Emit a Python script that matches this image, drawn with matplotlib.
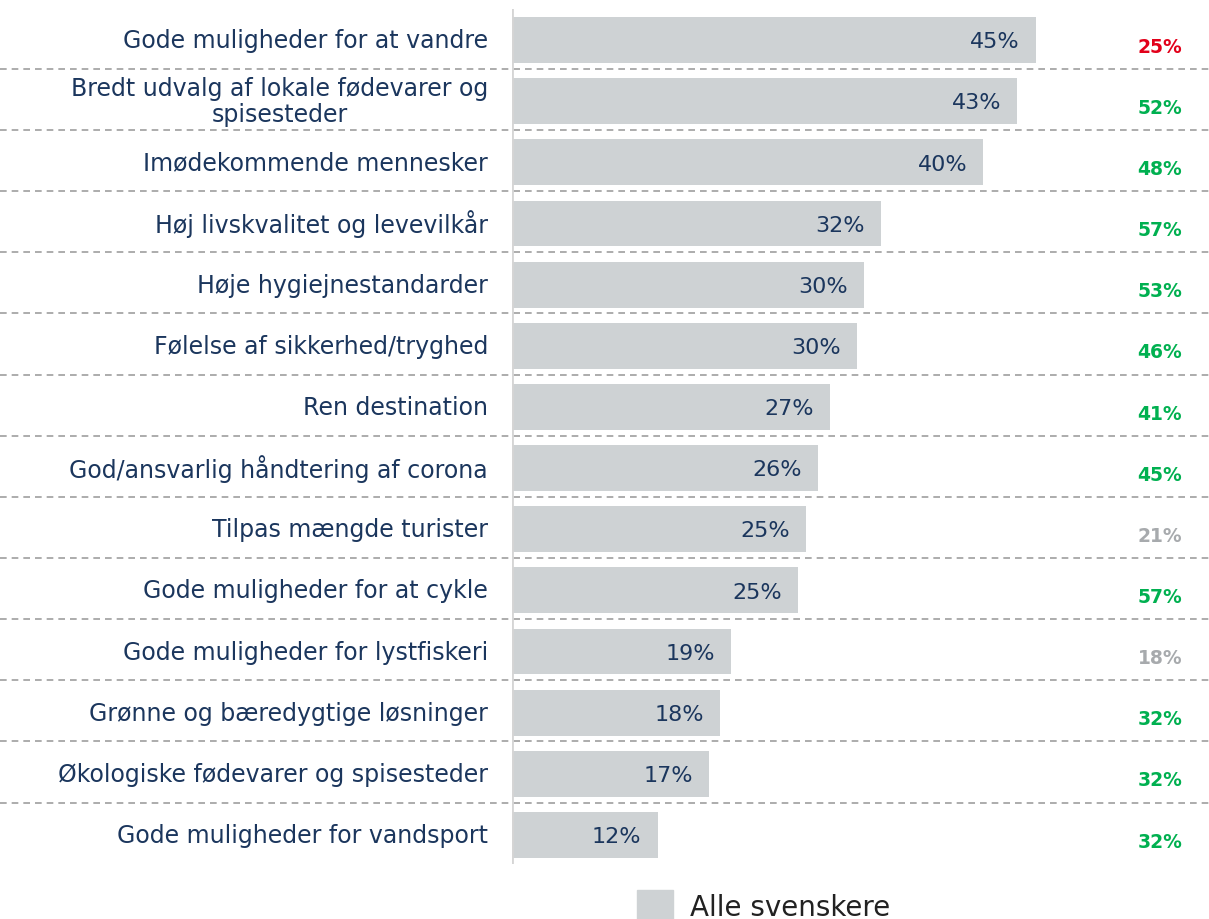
import matplotlib.pyplot as plt
import matplotlib.patches as mpatches

categories = [
    'Gode muligheder for at vandre',
    'Bredt udvalg af lokale fødevarer og\nspisesteder',
    'Imødekommende mennesker',
    'Høj livskvalitet og levevilkår',
    'Høje hygiejnestandarder',
    'Følelse af sikkerhed/tryghed',
    'Ren destination',
    'God/ansvarlig håndtering af corona',
    'Tilpas mængde turister',
    'Gode muligheder for at cykle',
    'Gode muligheder for lystfiskeri',
    'Grønne og bæredygtige løsninger',
    'Økologiske fødevarer og spisesteder',
    'Gode muligheder for vandsport',
]
# bar lengths (unrounded) and the printed labels
alle_values = [45.0, 43.4, 40.5, 31.7, 30.2, 29.6, 27.3, 26.3, 25.3, 24.6, 18.8, 17.9, 16.9, 12.5]
alle_labels = ['45%', '43%', '40%', '32%', '30%', '30%', '27%', '26%', '25%', '25%', '19%', '18%', '17%', '12%']
other_labels = ['25%', '52%', '48%', '57%', '53%', '46%', '41%', '45%', '21%', '57%', '18%', '32%', '32%', '32%']
other_status = ['down', 'up', 'up', 'up', 'up', 'up', 'up', 'up', 'same', 'up', 'same', 'up', 'up', 'up']

status_colors = {'up': '#00B050', 'down': '#E2001A', 'same': '#A7AAAD'}
bar_color = '#CED2D4'
navy = '#1B365D'

plt.rcParams['font.family'] = ['DejaVu Sans']

W, H = 1209, 920
fig = plt.figure(figsize=(W / 100, H / 100), dpi=100)
ax = fig.add_axes([512 / W, 1 - 865 / H, (W - 512) / W, 855 / H])

px = 11.64  # pixels per percent
ax.set_xlim(0, (W - 512) / px)
ax.set_ylim(13.474, -0.507)

y = list(range(len(categories)))
ax.barh(y, alle_values, height=0.75, color=bar_color, zorder=2)

for i in y:
    ax.text(-24 / px, i, categories[i], ha='right', va='center', fontsize=17,
            color=navy, linespacing=1.1, multialignment='center')
    ax.text(alle_values[i] - 16 / px, i + 0.02, alle_labels[i], ha='right', va='center',
            fontsize=16, color=navy, zorder=3)
    ax.text((1160 - 512) / px, i + 0.1, other_labels[i], ha='center', va='center',
            fontsize=13.5, fontweight='heavy', color=status_colors[other_status[i]])

# dashed separators spanning the whole width
for i in y[:-1]:
    ax.plot([-512 / px, (W - 512) / px], [i + 0.47, i + 0.47], ls=(0, (4, 3)),
            color='#9E9E9E', lw=1.2, clip_on=False, zorder=1)

ax.axvline(0, color='#D5D5D5', lw=2, zorder=4)
for s in ax.spines.values():
    s.set_visible(False)
ax.set_xticks([])
ax.set_yticks([])

handle = mpatches.Patch(color=bar_color, label='Alle svenskere')
fig.legend(handles=[handle], loc='upper left', bbox_to_anchor=(612 / W, 1 - 866 / H),
           frameon=False, fontsize=20, handlelength=1.3, handleheight=1.4,
           handletextpad=0.6, labelcolor='#222222')

fig.savefig('out.png', dpi=100)
